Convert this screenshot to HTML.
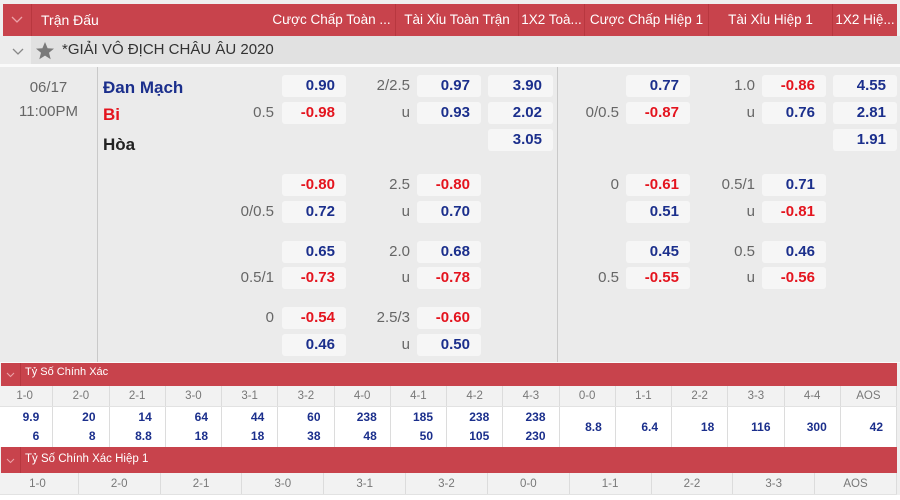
<!DOCTYPE html>
<html><head><meta charset="utf-8">
<style>
*{box-sizing:border-box;margin:0;padding:0}
body{width:900px;height:500px;overflow:hidden;background:#efefef;font-family:"Liberation Sans",sans-serif;position:relative}
.abs{position:absolute}
.hdr{position:absolute;left:3px;top:4px;width:894px;height:32px;background:#c8434c}
.ht{position:absolute;top:4px;height:32px;line-height:32px;color:#fff;font-size:13.5px;white-space:nowrap;text-align:center}
.hsep{position:absolute;top:4px;width:1px;height:32px;background:#b8373f}
.b{position:absolute;width:64px;height:22px;background:#f6f6f6;border-radius:3px;text-align:right;padding-right:11px;line-height:22px;font-size:15px;font-weight:bold}
.n{color:#1b2f8c}.r{color:#e4141e}
.l{position:absolute;height:22px;line-height:22px;font-size:15px;color:#666;text-align:right;white-space:nowrap}
.sec{position:absolute;left:1px;width:896px;background:#c8434c;color:#fff}
.row{position:absolute;left:-3px;width:900px;display:flex}
.row div{border-right:1px solid #dcdcdc;text-align:center}
.lab div{color:#777;font-size:11.5px}
.val div{text-align:right;padding-right:13px;color:#1b2f8c;font-weight:bold;font-size:12px;display:flex;flex-direction:column;justify-content:center;align-items:flex-end}
.val div span{display:block;height:19px;line-height:19px}
</style></head><body>
<!-- main header -->
<div class="hdr"></div>
<div class="hsep" style="left:31px"></div>
<svg class="abs" style="left:11px;top:16px" width="12" height="8"><polyline points="1,1 6,6 11,1" fill="none" stroke="#eca3a8" stroke-width="1.3"/></svg>
<div class="ht" style="left:41px;text-align:left;font-size:14px">Trận Đấu</div>
<div class="ht" style="left:268px;width:127px">Cược Chấp Toàn ...</div>
<div class="hsep" style="left:395px"></div>
<div class="ht" style="left:396px;width:122px">Tài Xỉu Toàn Trận</div>
<div class="hsep" style="left:518px"></div>
<div class="ht" style="left:519px;width:65px">1X2 Toà...</div>
<div class="hsep" style="left:584px"></div>
<div class="ht" style="left:585px;width:123px">Cược Chấp Hiệp 1</div>
<div class="hsep" style="left:708px"></div>
<div class="ht" style="left:709px;width:123px">Tài Xỉu Hiệp 1</div>
<div class="hsep" style="left:832px"></div>
<div class="ht" style="left:833px;width:64px">1X2 Hiệ...</div>

<!-- league row -->
<div class="abs" style="left:0;top:36px;width:900px;height:28px;background:#e1e1e1"></div>
<div class="abs" style="left:0;top:36px;width:31px;height:28px;background:#ececec"></div>
<svg class="abs" style="left:12px;top:48px" width="12" height="8"><polyline points="1,1 6,6 11,1" fill="none" stroke="#888" stroke-width="1.3"/></svg>
<svg class="abs" style="left:35px;top:41px" width="20" height="19"><polygon points="10,1 12.6,7.2 19,7.6 14,11.8 15.7,18.2 10,14.6 4.3,18.2 6,11.8 1,7.6 7.4,7.2" fill="#7a7a7a"/></svg>
<div class="abs" style="left:62px;top:36px;height:28px;line-height:28px;font-size:15px;color:#333;white-space:nowrap">*GIẢI VÔ ĐỊCH CHÂU ÂU 2020</div>
<div class="abs" style="left:0;top:64px;width:900px;height:3px;background:#fafafa"></div>

<!-- match area -->
<div class="abs" style="left:0;top:67px;width:900px;height:295px;background:#ebebeb"></div>
<div class="abs" style="left:97px;top:67px;width:1px;height:295px;background:#c9c9c9"></div>
<div class="abs" style="left:557px;top:67px;width:1px;height:295px;background:#c9c9c9"></div>
<div class="abs" style="left:0;top:77px;width:97px;text-align:center;font-size:15px;color:#666;line-height:22px">06/17</div>
<div class="abs" style="left:0;top:101px;width:97px;text-align:center;font-size:15px;color:#666;line-height:22px">11:00PM</div>
<div class="abs" style="left:103px;top:76px;font-size:17px;font-weight:bold;color:#1b2f8c;line-height:24px">Đan Mạch</div>
<div class="abs" style="left:103px;top:103px;font-size:17px;font-weight:bold;color:#e4141e;line-height:24px">Bi</div>
<div class="abs" style="left:103px;top:133px;font-size:17px;font-weight:bold;color:#222;line-height:24px">Hòa</div>

<!-- group 1 -->
<div class="b n" style="left:282px;top:75px">0.90</div>
<div class="l" style="right:490px;top:75px">2/2.5</div>
<div class="b n" style="left:417px;top:75px">0.97</div>
<div class="b n" style="left:488px;top:75px;width:65px">3.90</div>
<div class="b n" style="left:626px;top:75px">0.77</div>
<div class="l" style="right:145px;top:75px">1.0</div>
<div class="b r" style="left:762px;top:75px">-0.86</div>
<div class="b n" style="left:833px;top:75px">4.55</div>

<div class="l" style="right:626px;top:102px">0.5</div>
<div class="b r" style="left:282px;top:102px">-0.98</div>
<div class="l" style="right:490px;top:102px">u</div>
<div class="b n" style="left:417px;top:102px">0.93</div>
<div class="b n" style="left:488px;top:102px;width:65px">2.02</div>
<div class="l" style="right:281px;top:102px">0/0.5</div>
<div class="b r" style="left:626px;top:102px">-0.87</div>
<div class="l" style="right:145px;top:102px">u</div>
<div class="b n" style="left:762px;top:102px">0.76</div>
<div class="b n" style="left:833px;top:102px">2.81</div>

<div class="b n" style="left:488px;top:129px;width:65px">3.05</div>
<div class="b n" style="left:833px;top:129px">1.91</div>

<!-- group 2 -->
<div class="b r" style="left:282px;top:174px">-0.80</div>
<div class="l" style="right:490px;top:174px">2.5</div>
<div class="b r" style="left:417px;top:174px">-0.80</div>
<div class="l" style="right:281px;top:174px">0</div>
<div class="b r" style="left:626px;top:174px">-0.61</div>
<div class="l" style="right:145px;top:174px">0.5/1</div>
<div class="b n" style="left:762px;top:174px">0.71</div>

<div class="l" style="right:626px;top:201px">0/0.5</div>
<div class="b n" style="left:282px;top:201px">0.72</div>
<div class="l" style="right:490px;top:201px">u</div>
<div class="b n" style="left:417px;top:201px">0.70</div>
<div class="b n" style="left:626px;top:201px">0.51</div>
<div class="l" style="right:145px;top:201px">u</div>
<div class="b r" style="left:762px;top:201px">-0.81</div>

<!-- group 3 -->
<div class="b n" style="left:282px;top:241px">0.65</div>
<div class="l" style="right:490px;top:241px">2.0</div>
<div class="b n" style="left:417px;top:241px">0.68</div>
<div class="b n" style="left:626px;top:241px">0.45</div>
<div class="l" style="right:145px;top:241px">0.5</div>
<div class="b n" style="left:762px;top:241px">0.46</div>

<div class="l" style="right:626px;top:267px">0.5/1</div>
<div class="b r" style="left:282px;top:267px">-0.73</div>
<div class="l" style="right:490px;top:267px">u</div>
<div class="b r" style="left:417px;top:267px">-0.78</div>
<div class="l" style="right:281px;top:267px">0.5</div>
<div class="b r" style="left:626px;top:267px">-0.55</div>
<div class="l" style="right:145px;top:267px">u</div>
<div class="b r" style="left:762px;top:267px">-0.56</div>

<!-- group 4 -->
<div class="l" style="right:626px;top:307px">0</div>
<div class="b r" style="left:282px;top:307px">-0.54</div>
<div class="l" style="right:490px;top:307px">2.5/3</div>
<div class="b r" style="left:417px;top:307px">-0.60</div>
<div class="b n" style="left:282px;top:334px">0.46</div>
<div class="l" style="right:490px;top:334px">u</div>
<div class="b n" style="left:417px;top:334px">0.50</div>

<!-- correct score section -->
<div class="abs" style="left:0;top:362px;width:900px;height:1px;background:#fafafa"></div>
<div class="sec" style="top:363px;height:23px"></div>
<div class="abs" style="left:20px;top:363px;width:1px;height:23px;background:#b8373f"></div>
<svg class="abs" style="left:6px;top:372px" width="9" height="6"><polyline points="1,1 4.5,4.5 8,1" fill="none" stroke="#eca3a8" stroke-width="1.1"/></svg>
<div class="abs" style="left:25px;top:363px;height:23px;line-height:19px;color:#fff;font-size:11px;white-space:nowrap">Tỷ Số Chính Xác</div>

<div class="row lab" style="top:386px;height:21px;background:#f2f2f2;border-bottom:1px solid #e2e2e2">
<div style="width:56.25px;line-height:21px">1-0</div><div style="width:56.25px;line-height:21px">2-0</div><div style="width:56.25px;line-height:21px">2-1</div><div style="width:56.25px;line-height:21px">3-0</div><div style="width:56.25px;line-height:21px">3-1</div><div style="width:56.25px;line-height:21px">3-2</div><div style="width:56.25px;line-height:21px">4-0</div><div style="width:56.25px;line-height:21px">4-1</div><div style="width:56.25px;line-height:21px">4-2</div><div style="width:56.25px;line-height:21px">4-3</div><div style="width:56.25px;line-height:21px">0-0</div><div style="width:56.25px;line-height:21px">1-1</div><div style="width:56.25px;line-height:21px">2-2</div><div style="width:56.25px;line-height:21px">3-3</div><div style="width:56.25px;line-height:21px">4-4</div><div style="width:56.25px;line-height:21px">AOS</div>
</div>
<div class="row val" style="top:407px;height:40px;background:#fff">
<div style="width:56.25px"><span>9.9</span><span>6</span></div>
<div style="width:56.25px"><span>20</span><span>8</span></div>
<div style="width:56.25px"><span>14</span><span>8.8</span></div>
<div style="width:56.25px"><span>64</span><span>18</span></div>
<div style="width:56.25px"><span>44</span><span>18</span></div>
<div style="width:56.25px"><span>60</span><span>38</span></div>
<div style="width:56.25px"><span>238</span><span>48</span></div>
<div style="width:56.25px"><span>185</span><span>50</span></div>
<div style="width:56.25px"><span>238</span><span>105</span></div>
<div style="width:56.25px"><span>238</span><span>230</span></div>
<div style="width:56.25px"><span>8.8</span></div>
<div style="width:56.25px"><span>6.4</span></div>
<div style="width:56.25px"><span>18</span></div>
<div style="width:56.25px"><span>116</span></div>
<div style="width:56.25px"><span>300</span></div>
<div style="width:56.25px"><span>42</span></div>
</div>

<!-- first half correct score -->
<div class="sec" style="top:447px;height:26px"></div>
<div class="abs" style="left:20px;top:447px;width:1px;height:26px;background:#b8373f"></div>
<svg class="abs" style="left:6px;top:458px" width="9" height="6"><polyline points="1,1 4.5,4.5 8,1" fill="none" stroke="#eca3a8" stroke-width="1.1"/></svg>
<div class="abs" style="left:25px;top:447px;height:26px;line-height:24px;color:#fff;font-size:11.5px;white-space:nowrap">Tỷ Số Chính Xác Hiệp 1</div>

<div class="row lab" style="top:473px;height:22px;background:#f2f2f2;border-bottom:1px solid #e2e2e2">
<div style="width:81.82px;line-height:22px">1-0</div><div style="width:81.82px;line-height:22px">2-0</div><div style="width:81.82px;line-height:22px">2-1</div><div style="width:81.82px;line-height:22px">3-0</div><div style="width:81.82px;line-height:22px">3-1</div><div style="width:81.82px;line-height:22px">3-2</div><div style="width:81.82px;line-height:22px">0-0</div><div style="width:81.82px;line-height:22px">1-1</div><div style="width:81.82px;line-height:22px">2-2</div><div style="width:81.82px;line-height:22px">3-3</div><div style="width:81.82px;line-height:22px">AOS</div>
</div>
<div class="abs" style="left:0;top:495px;width:900px;height:5px;background:#fff"></div>
</body></html>
